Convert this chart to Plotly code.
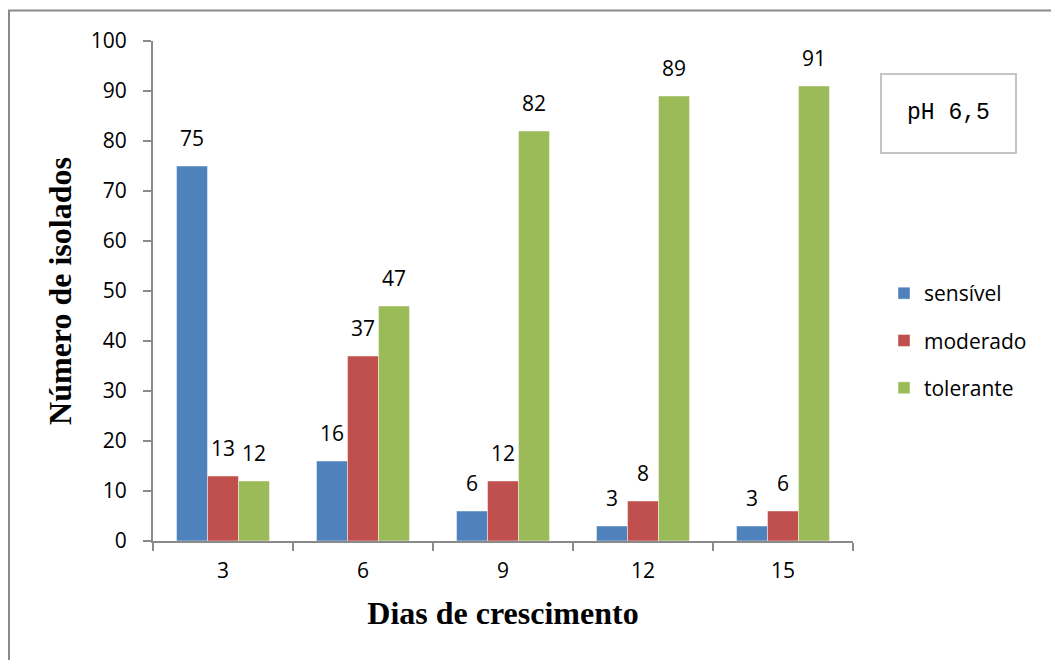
import plotly.graph_objects as go

# Growth days (categories) and number of isolates per tolerance class
dias = ["3", "6", "9", "12", "15"]
sensivel = [75, 16, 6, 3, 3]
moderado = [13, 37, 12, 8, 6]
tolerante = [12, 47, 82, 89, 91]

series_names = ["sensível", "moderado", "tolerante"]
series_values = [sensivel, moderado, tolerante]
series_colors = ["#4F81BD", "#C0504D", "#9BBB59"]
y_tickvals = [0, 10, 20, 30, 40, 50, 60, 70, 80, 90, 100]

W, H = 1051, 660
L, R, T, B = 153, 198, 41, 119
pw, ph = W - L - R, H - T - B
BARGAP = 0.336


def px_x(x):
    return (x - L) / pw


def px_y(y):
    return (H - B - y) / ph


fig = go.Figure()
for name, vals, col in zip(series_names, series_values, series_colors):
    fig.add_trace(go.Bar(
        x=dias, y=vals, name=name, legendgroup=name,
        marker=dict(color=col, line=dict(color="rgba(255,255,255,0.45)", width=1)),
    ))

# value labels above each bar (category index + pixel offset of the bar in its group)
bar_px = pw / len(dias) * (1 - BARGAP) / 3
annotations = []
for k, vals in enumerate(series_values):
    for j, v in enumerate(vals):
        annotations.append(dict(
            x=j, y=v, xref="x", yref="y", text=str(v), showarrow=False,
            xshift=(k - 1) * bar_px, yshift=12, yanchor="bottom",
            font=dict(family="Open Sans", size=21, color="#000000"),
        ))

# pH label box
annotations.append(dict(
    x=px_x(948.5), y=px_y(113), xref="paper", yref="paper", text="pH 6,5",
    showarrow=False, xanchor="center", yanchor="middle",
    font=dict(family="Courier New, Liberation Mono, monospace", size=23, color="#000000"),
))

shapes = [
    dict(type="rect", xref="paper", yref="paper",
         x0=px_x(881), x1=px_x(1016), y0=px_y(153), y1=px_y(74),
         line=dict(color="#c4c4c4", width=2), fillcolor="white", layer="below"),
    # chart frame
    dict(type="rect", xref="paper", yref="paper",
         x0=px_x(9), x1=px_x(1080), y0=px_y(690), y1=px_y(10.5),
         line=dict(color="#8a8a8a", width=2), fillcolor="rgba(0,0,0,0)", layer="below"),
]

axis_line = "#8a8a8a"
fig.update_layout(
    width=W, height=H,
    margin=dict(l=L, r=R, t=T, b=B, autoexpand=False),
    paper_bgcolor="white", plot_bgcolor="white",
    barmode="group", bargap=BARGAP, bargroupgap=0,
    font=dict(family="Open Sans", color="#000000"),
    xaxis=dict(
        type="category", range=[-0.5, len(dias) - 0.5],
        showline=True, linecolor=axis_line, linewidth=2,
        ticks="outside", tickson="boundaries", ticklen=8, tickcolor=axis_line, tickwidth=2,
        showgrid=False, ticklabelstandoff=10, tickfont=dict(family="Open Sans", size=21),
        title=dict(text="<b>Dias de crescimento</b>", standoff=18,
                   font=dict(family="Liberation Serif", size=32)),
    ),
    yaxis=dict(
        range=[0, 100], tickvals=y_tickvals, showline=True, linecolor=axis_line, linewidth=2,
        ticks="outside", ticklen=8, tickcolor=axis_line, tickwidth=2,
        showgrid=False, zeroline=False, ticklabelstandoff=12,
        tickfont=dict(family="Open Sans", size=21),
        title=dict(text="<b>Número de isolados</b>", standoff=10,
                   font=dict(family="Liberation Serif", size=32)),
    ),
    legend=dict(
        x=px_x(884), y=px_y(273), xanchor="left", yanchor="top",
        font=dict(family="Open Sans", size=21), traceorder="grouped",
        tracegroupgap=17, bgcolor="rgba(0,0,0,0)",
    ),
    annotations=annotations,
    shapes=shapes,
)

fig.write_html("out.html")
